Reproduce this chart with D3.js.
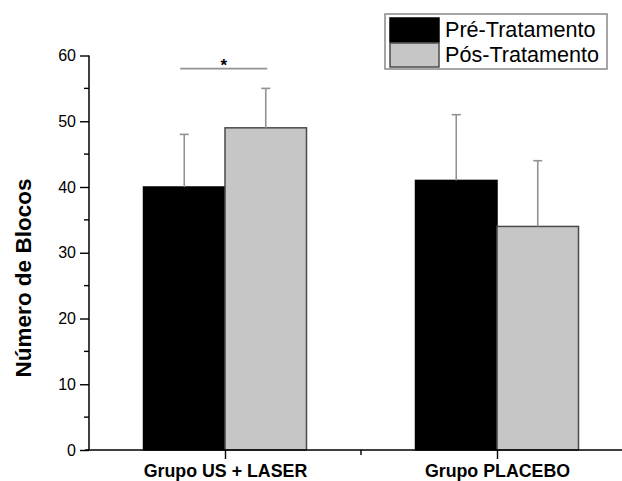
<!DOCTYPE html>
<html><head><meta charset="utf-8">
<script src="https://cdn.jsdelivr.net/npm/d3@7/dist/d3.min.js"></script>
<style>body{margin:0;background:#fff}svg{display:block;font-family:"Liberation Sans",Arial,sans-serif}</style>
</head><body><svg id="c" width="622" height="481"></svg>
<script>
const categories = ["Grupo US + LASER", "Grupo PLACEBO"];
const seriesNames = ["Pré-Tratamento", "Pós-Tratamento"];
const preValues = [40, 41];
const postValues = [49, 34];
const preErr = [8, 10];
const postErr = [6, 10];
const yTicks = [0, 10, 20, 30, 40, 50, 60];
const yMinorTicks = [5, 15, 25, 35, 45, 55];
const sigLevel = 58;

const colors = ["#000000", "#c6c6c6"];
const outline = ["#000000", "#4a4a4a"];
const FONT = "'Liberation Sans', Arial, sans-serif";
const svg = d3.select("#c");

const x = d3.scaleLinear().domain([0.5, 2.5]).range([89, 633]);
const y = d3.scaleLinear().domain([0, 60]).range([450, 55.5]);
const barW = 81.5;

const series = [preValues, postValues];
const errs = [preErr, postErr];

// bars
series.forEach((vals, s) => {
  svg.append("g").selectAll("rect").data(vals).join("rect")
    .attr("x", (d, i) => x(i + 1) + (s === 0 ? -barW : 0))
    .attr("y", d => y(d))
    .attr("width", barW)
    .attr("height", d => y(0) - y(d))
    .attr("fill", colors[s])
    .attr("stroke", outline[s])
    .attr("stroke-width", 1.5);
});

// error bars
series.forEach((vals, s) => {
  const g = svg.append("g").attr("stroke", "#929292").attr("stroke-width", 1.6);
  vals.forEach((d, i) => {
    const cx = x(i + 1) + (s === 0 ? -barW / 2 : barW / 2);
    g.append("line").attr("x1", cx).attr("x2", cx).attr("y1", y(d)).attr("y2", y(d + errs[s][i]));
    g.append("line").attr("x1", cx - 4.5).attr("x2", cx + 4.5).attr("y1", y(d + errs[s][i])).attr("y2", y(d + errs[s][i]));
  });
});

// significance
const sx1 = x(1) - barW / 2 - 4, sx2 = x(1) + barW / 2 + 1.5;
svg.append("line").attr("x1", sx1).attr("x2", sx2).attr("y1", y(sigLevel)).attr("y2", y(sigLevel))
  .attr("stroke", "#929292").attr("stroke-width", 1.6);
svg.append("text").attr("x", (sx1 + sx2) / 2).attr("y", y(sigLevel) + 2)
  .attr("text-anchor", "middle").attr("font-size", 17).attr("font-weight", "bold").attr("fill", "#000").text("*");

// y axis
const yAxis = d3.axisLeft(y).tickValues(yTicks).tickSize(9).tickPadding(4);
const gy = svg.append("g").attr("transform", "translate(89,0)").call(yAxis);
gy.select(".domain").attr("d", `M0,${y(60)}V${y(0)}`).attr("stroke-width", 1.5);
gy.selectAll(".tick line").attr("stroke-width", 1.4);
gy.selectAll(".tick text").attr("font-size", 16).attr("fill", "#000").attr("font-family", FONT);
svg.append("g").selectAll("line").data(yMinorTicks).join("line")
  .attr("x1", 84).attr("x2", 89).attr("y1", d => y(d)).attr("y2", d => y(d))
  .attr("stroke", "#000").attr("stroke-width", 1.4);

// x axis
const xAxis = d3.axisBottom(x).tickValues([1, 2]).tickFormat((d, i) => categories[i]).tickSize(9).tickPadding(5);
const gx = svg.append("g").attr("transform", `translate(0,${y(0)})`).call(xAxis);
gx.select(".domain").attr("d", "M85,0H633").attr("stroke-width", 1.5);
gx.selectAll(".tick line").attr("stroke-width", 1.4);
gx.selectAll(".tick text").attr("font-size", 17.8).attr("font-weight", "bold").attr("fill", "#000")
  .attr("font-family", FONT);
svg.append("line").attr("x1", x(1.5)).attr("x2", x(1.5)).attr("y1", y(0)).attr("y2", y(0) + 5)
  .attr("stroke", "#000").attr("stroke-width", 1.4);

// y label
svg.append("text").attr("transform", "translate(31,278) rotate(-90)")
  .attr("text-anchor", "middle").attr("font-size", 22.5).attr("font-weight", "bold").text("Número de Blocos");

// legend
const lg = svg.append("g");
lg.append("rect").attr("x", 385).attr("y", 14).attr("width", 222).attr("height", 55)
  .attr("fill", "#fff").attr("stroke", "#888").attr("stroke-width", 1.5);
seriesNames.forEach((n, s) => {
  lg.append("rect").attr("x", 390).attr("y", 18 + s * 25).attr("width", 49).attr("height", 24)
    .attr("fill", colors[s]).attr("stroke", outline[s]).attr("stroke-width", 1.5);
  lg.append("text").attr("x", 445).attr("y", 37 + s * 25).attr("font-size", 21.6).attr("fill", "#000").text(n);
});
</script></body></html>
